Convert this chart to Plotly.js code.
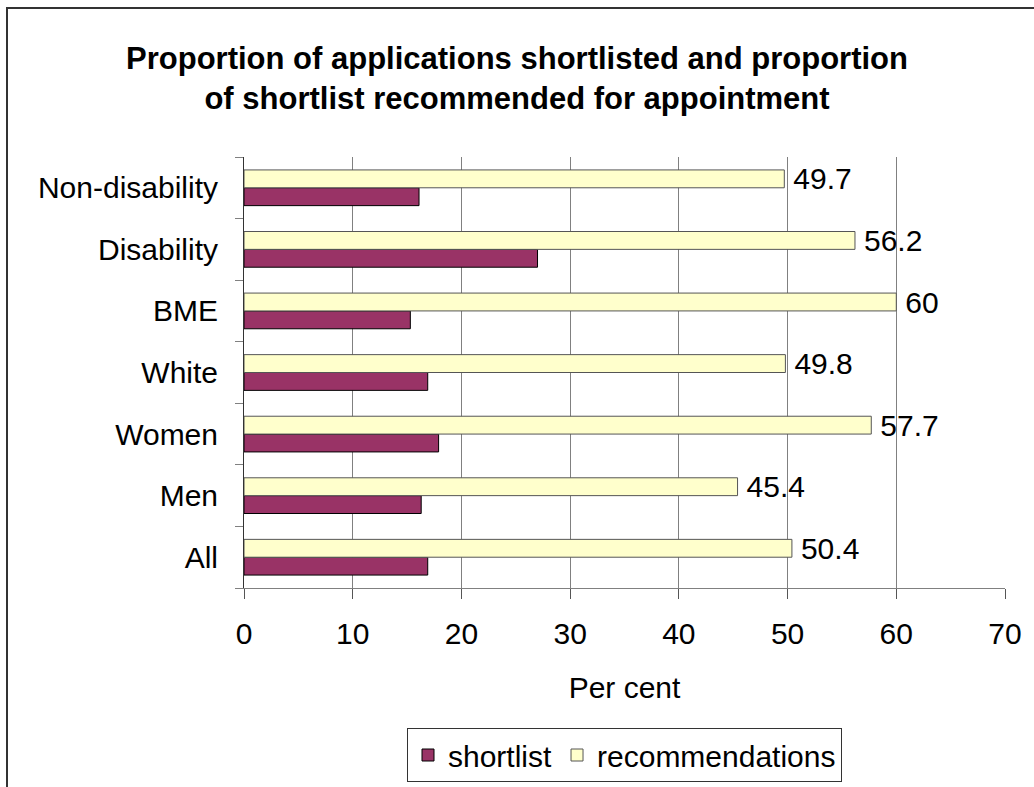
<!DOCTYPE html>
<html>
<head>
<meta charset="utf-8">
<script src="https://cdn.plot.ly/plotly-3.0.1.min.js"></script>
<style>html,body{margin:0;padding:0;background:#fff;}#chart{width:1034px;height:787px;}</style>
</head>
<body>
<div id="chart"></div>
<script>
const categories = ["All", "Men", "Women", "White", "BME", "Disability", "Non-disability"];
const shortlist = [16.9, 16.3, 17.9, 16.9, 15.3, 27.0, 16.1];
const recommendations = [50.4, 45.4, 57.7, 49.8, 60, 56.2, 49.7];
const xTicks = [0, 10, 20, 30, 40, 50, 60, 70];

const FONT = "Liberation Sans, Arial, sans-serif";

const traces = [
  {
    type: "bar", orientation: "h", name: "shortlist",
    y: categories, x: shortlist,
    marker: {color: "#993366", line: {color: "#000000", width: 1}},
    hoverinfo: "x+y"
  },
  {
    type: "bar", orientation: "h", name: "recommendations",
    y: categories, x: recommendations,
    marker: {color: "#FFFFCC", line: {color: "#555555", width: 1}},
    text: recommendations.map(v => "\u2009" + v),
    textposition: "outside", constraintext: "none", cliponaxis: false,
    textfont: {family: FONT, size: 30, color: "#000"},
    hoverinfo: "x+y"
  }
];

const layout = {
  width: 1034, height: 787,
  margin: {l: 244, r: 29, t: 157, b: 199, autoexpand: false},
  paper_bgcolor: "#fff", plot_bgcolor: "#fff",
  font: {family: FONT, size: 30, color: "#000"},
  barmode: "group", bargap: 0.42, bargroupgap: 0,
  title: {
    text: "<b>Proportion of applications shortlisted and proportion<br>of shortlist recommended for appointment</b>",
    font: {family: FONT, size: 31, color: "#000"},
    x: 0.5, xref: "container", xanchor: "center",
    y: 1 - 69/787, yref: "container", yanchor: "top"
  },
  xaxis: {
    range: [0, 70], tickvals: xTicks, ticktext: xTicks.map(String),
    showgrid: true, gridcolor: "#808080", gridwidth: 1,
    showline: true, linecolor: "#808080", linewidth: 1,
    ticks: "outside", ticklen: 10, tickcolor: "#555", tickwidth: 1,
    tickfont: {family: FONT, size: 30, color: "#000"},
    ticklabelstandoff: 9, automargin: false,
    zeroline: false, fixedrange: true,
    title: {text: "Per cent", font: {family: FONT, size: 30, color: "#000"}, standoff: 27}
  },
  yaxis: {
    type: "category", categoryorder: "array", categoryarray: categories,
    tickson: "boundaries", ticks: "outside", ticklen: 8, tickcolor: "#808080", tickwidth: 1,
    showline: true, linecolor: "#333", linewidth: 1,
    showgrid: false, zeroline: false, fixedrange: true, automargin: false,
    tickfont: {family: FONT, size: 30, color: "#000"},
    ticklabelstandoff: 19
  },
  showlegend: true,
  legend: {
    orientation: "h", x: 0.5, xref: "paper", xanchor: "center",
    y: (588 - 728) / 431, yanchor: "top",
    bordercolor: "#333", borderwidth: 1, bgcolor: "#fff",
    font: {family: FONT, size: 30, color: "#000"},
    traceorder: "normal", itemwidth: 30, tracegroupgap: 0
  },
  shapes: [
    {type: "rect", xref: "paper", yref: "paper",
     x0: (7 - 244) / 761, x1: (1045 - 244) / 761,
     y0: (588 - 810) / 431, y1: (588 - 8) / 431,
     line: {color: "#333", width: 2}, fillcolor: "rgba(0,0,0,0)", layer: "below"}
  ]
};

Plotly.newPlot("chart", traces, layout, {displayModeBar: false, staticPlot: true});
</script>
</body>
</html>
